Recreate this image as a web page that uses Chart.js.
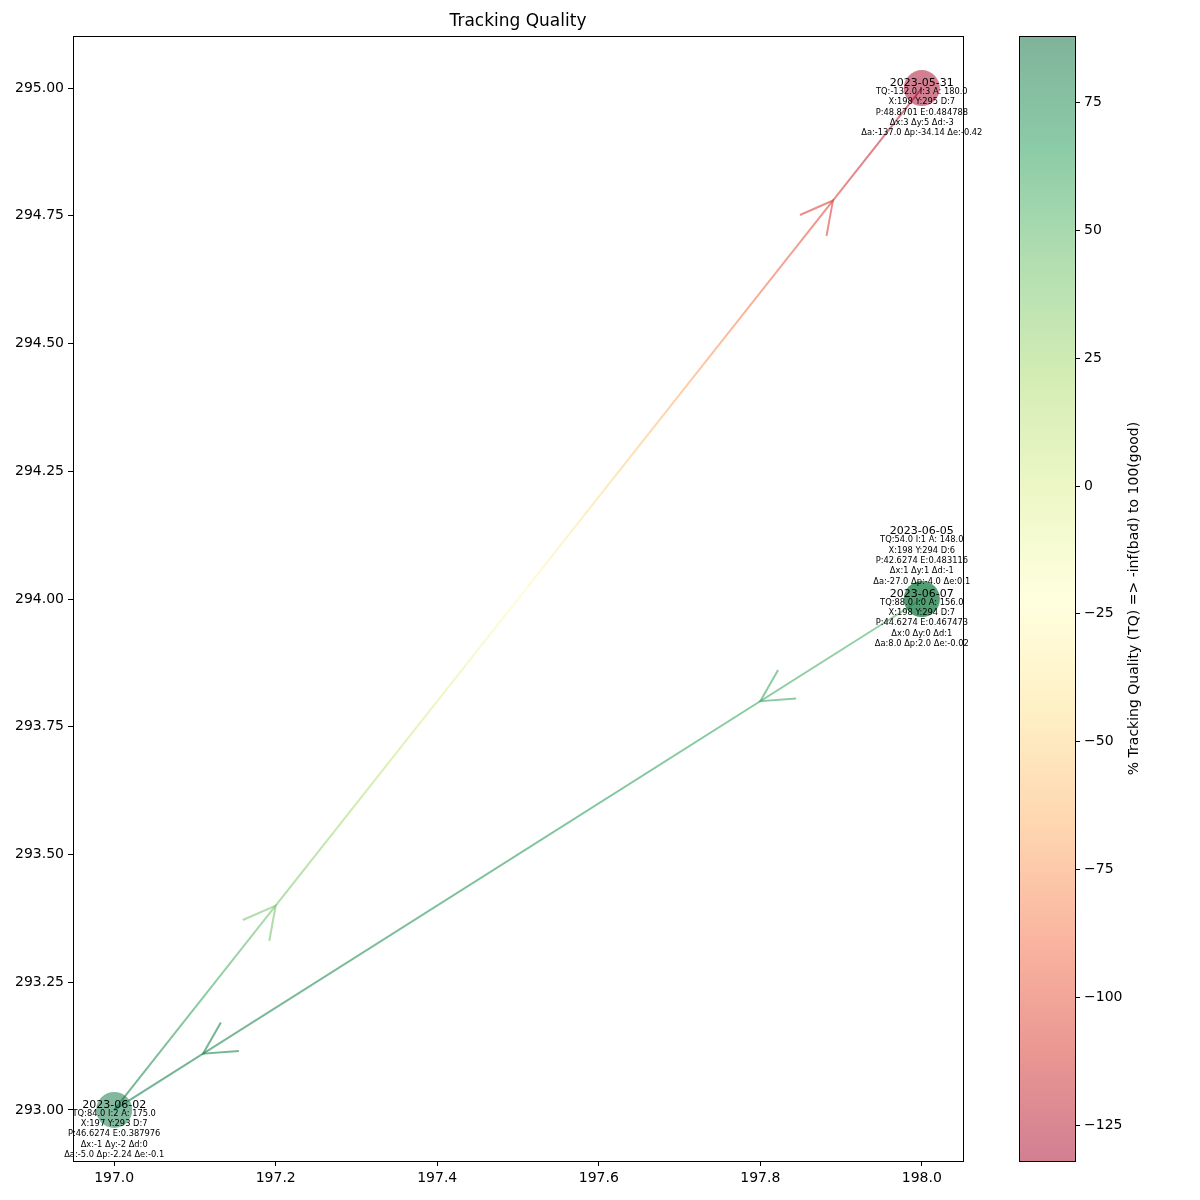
<!DOCTYPE html>
<html>
<head>
<meta charset="utf-8">
<script src="https://cdn.jsdelivr.net/npm/chart.js@4.4.1/dist/chart.umd.min.js"></script>
<style>
  html, body { margin: 0; padding: 0; background: #fff; }
  #wrap { position: relative; width: 1200px; height: 1200px; }
  #mainChart { position: absolute; left: 0; top: 0; }
  #barChart { position: absolute; left: 1000px; top: 0; }
</style>
</head>
<body>
<div id="wrap">
  <canvas id="mainChart" width="1200" height="1200"></canvas>
  <canvas id="barChart" width="200" height="1200"></canvas>
</div>
<script>
// Dados
const dates = ['2023-05-31', '2023-06-02', '2023-06-05', '2023-06-07'];
const posX = [198, 197, 198, 198];
const posY = [295, 293, 294, 294];
const tq = [-132.0, 84.0, 54.0, 88.0];
const iVals = [3, 2, 1, 0];
const aVals = ['180.0', '175.0', '148.0', '156.0'];
const dVals = [7, 7, 6, 7];
const pVals = ['48.8701', '46.6274', '42.6274', '44.6274'];
const eVals = ['0.484788', '0.387976', '0.483116', '0.467473'];
const dxVals = [3, -1, 1, 0];
const dyVals = [5, -2, 1, 0];
const ddVals = [-3, 0, -1, 1];
const daVals = ['-137.0', '-5.0', '-27.0', '8.0'];
const dpVals = ['-34.14', '-2.24', '-4.0', '2.0'];
const deVals = ['-0.42', '-0.1', '0.1', '-0.02'];

// setas: de -> para (índices)
const arrowFrom = [1, 2];
const arrowTo = [0, 1];

const xTicks = [197.0, 197.2, 197.4, 197.6, 197.8, 198.0];
const yTicks = [293.00, 293.25, 293.50, 293.75, 294.00, 294.25, 294.50, 294.75, 295.00];
const cbTicks = [-125, -100, -75, -50, -25, 0, 25, 50, 75];

const tqMin = Math.min.apply(null, tq);
const tqMax = Math.max.apply(null, tq);

// RdYlGn
const cmapStops = ['#a50026', '#d73027', '#f46d43', '#fdae61', '#fee08b', '#ffffbf',
                   '#d9ef8b', '#a6d96a', '#66bd63', '#1a9850', '#006837'];
function hexRgb(h) {
  return [parseInt(h.substr(1, 2), 16), parseInt(h.substr(3, 2), 16), parseInt(h.substr(5, 2), 16)];
}
function cmap(v, alpha) {
  let t = (v - tqMin) / (tqMax - tqMin);
  t = Math.max(0, Math.min(1, t));
  const pos = t * (cmapStops.length - 1);
  const i = Math.min(Math.floor(pos), cmapStops.length - 2);
  const f = pos - i;
  const a = hexRgb(cmapStops[i]), b = hexRgb(cmapStops[i + 1]);
  const c = a.map(function(x, k) { return Math.round(x + (b[k] - x) * f); });
  return 'rgba(' + c[0] + ',' + c[1] + ',' + c[2] + ',' + alpha + ')';
}

const FONT = "'DejaVu Sans', sans-serif";
const LINE_ALPHA = 0.55;

function lineGradient(ctx) {
  const chart = ctx.chart;
  if (!chart.chartArea) return cmap(0, LINE_ALPHA);
  const k = ctx.dataset.arrowIdx;
  const a = arrowFrom[k], b = arrowTo[k];
  const xs = chart.scales.x, ys = chart.scales.y;
  const x0 = xs.getPixelForValue(posX[a]), y0 = ys.getPixelForValue(posY[a]);
  const x1 = xs.getPixelForValue(posX[b]), y1 = ys.getPixelForValue(posY[b]);
  const g = chart.ctx.createLinearGradient(x0, y0, x1, y1);
  for (let s = 0; s <= 10; s++) {
    g.addColorStop(s / 10, cmap(tq[a] + (tq[b] - tq[a]) * s / 10, LINE_ALPHA));
  }
  return g;
}

const datasets = [];
arrowFrom.forEach(function(a, k) {
  const b = arrowTo[k];
  datasets.push({
    type: 'line',
    arrowIdx: k,
    data: [{ x: posX[a], y: posY[a] }, { x: posX[b], y: posY[b] }],
    borderColor: lineGradient,
    borderWidth: 2,
    pointRadius: 0,
    fill: false,
    order: 2
  });
});
datasets.push({
  type: 'scatter',
  data: posX.map(function(x, i) { return { x: x, y: posY[i] }; }),
  backgroundColor: tq.map(function(v) { return cmap(v, 0.5); }),
  borderWidth: 0,
  pointRadius: 18,
  pointHoverRadius: 18,
  order: 1
});

// pontas de seta no meio das linhas
const arrowHeads = {
  id: 'arrowHeads',
  afterDatasetsDraw: function(chart) {
    const c = chart.ctx, xs = chart.scales.x, ys = chart.scales.y;
    const fracs = [0.2, 0.89];
    arrowFrom.forEach(function(a, k) {
      const b = arrowTo[k];
      const x0 = xs.getPixelForValue(posX[a]), y0 = ys.getPixelForValue(posY[a]);
      const x1 = xs.getPixelForValue(posX[b]), y1 = ys.getPixelForValue(posY[b]);
      const ang = Math.atan2(y1 - y0, x1 - x0);
      fracs.forEach(function(f) {
        const px = x0 + (x1 - x0) * f, py = y0 + (y1 - y0) * f;
        const len = 36, spread = 28 * Math.PI / 180;
        c.save();
        c.strokeStyle = cmap(tq[a] + (tq[b] - tq[a]) * f, LINE_ALPHA);
        c.lineWidth = 2;
        c.beginPath();
        c.moveTo(px - len * Math.cos(ang - spread), py - len * Math.sin(ang - spread));
        c.lineTo(px, py);
        c.lineTo(px - len * Math.cos(ang + spread), py - len * Math.sin(ang + spread));
        c.stroke();
        c.restore();
      });
    });
  }
};

// textos das anotações, moldura e título
const annotations = {
  id: 'annotations',
  afterDraw: function(chart) {
    const c = chart.ctx, xs = chart.scales.x, ys = chart.scales.y;
    const area = chart.chartArea;
    const lineH = 10.4;
    c.save();
    c.strokeStyle = '#000';
    c.lineWidth = 1;
    c.strokeRect(Math.round(area.left) + 0.5, Math.round(area.top) + 0.5,
                 Math.round(area.right - area.left), Math.round(area.bottom - area.top));
    c.fillStyle = '#000';
    c.textAlign = 'center';
    c.textBaseline = 'middle';
    c.font = '17px ' + FONT;
    c.fillText('Tracking Quality', (area.left + area.right) / 2, 22);

    dates.forEach(function(d, i) {
      let stack = 0;
      for (let j = i + 1; j < dates.length; j++) {
        if (posX[j] === posX[i] && posY[j] === posY[i]) stack++;
      }
      const px = xs.getPixelForValue(posX[i]);
      const py = ys.getPixelForValue(posY[i]) - stack * 6 * lineH;
      c.font = '11px ' + FONT;
      c.fillText(d, px, py - 5);
      const lines = [
        'TQ:' + tq[i].toFixed(1) + ' I:' + iVals[i] + ' A: ' + aVals[i],
        'X:' + posX[i] + ' Y:' + posY[i] + ' D:' + dVals[i],
        'P:' + pVals[i] + ' E:' + eVals[i],
        '\u0394x:' + dxVals[i] + ' \u0394y:' + dyVals[i] + ' \u0394d:' + ddVals[i],
        '\u0394a:' + daVals[i] + ' \u0394p:' + dpVals[i] + ' \u0394e:' + deVals[i]
      ];
      c.font = '8.3px ' + FONT;
      lines.forEach(function(t, k) {
        c.fillText(t, px, py + 3.5 + k * lineH);
      });
    });
    c.restore();
  }
};

const tickFont = { family: FONT, size: 14 };

new Chart(document.getElementById('mainChart').getContext('2d'), {
  type: 'scatter',
  data: { datasets: datasets },
  options: {
    responsive: false,
    devicePixelRatio: 1,
    animation: false,
    layout: { padding: { left: 0, top: 36, right: 237, bottom: 0 } },
    plugins: { legend: { display: false }, tooltip: { enabled: false } },
    scales: {
      x: {
        type: 'linear',
        min: 196.949,
        max: 198.051,
        afterBuildTicks: function(scale) {
          scale.ticks = xTicks.map(function(v) { return { value: v }; });
        },
        afterFit: function(scale) { scale.height = 39; },
        ticks: {
          color: '#000',
          font: tickFont,
          padding: 4,
          maxRotation: 0,
          callback: function(v) { return Number(v).toFixed(1); }
        },
        grid: { drawOnChartArea: false, drawTicks: true, tickLength: 5, color: '#000' },
        border: { display: false }
      },
      y: {
        type: 'linear',
        min: 292.9,
        max: 295.102,
        afterBuildTicks: function(scale) {
          scale.ticks = yTicks.map(function(v) { return { value: v }; });
        },
        afterFit: function(scale) { scale.width = 73; },
        ticks: {
          color: '#000',
          font: tickFont,
          padding: 4,
          callback: function(v) { return Number(v).toFixed(2); }
        },
        grid: { drawOnChartArea: false, drawTicks: true, tickLength: 5, color: '#000' },
        border: { display: false }
      }
    }
  },
  plugins: [arrowHeads, annotations]
});

// Barra de cores
const colorBar = {
  id: 'colorBar',
  beforeDatasetsDraw: function(chart) {
    const c = chart.ctx, area = chart.chartArea, ys = chart.scales.y;
    const yTop = ys.getPixelForValue(tqMax), yBot = ys.getPixelForValue(tqMin);
    const g = c.createLinearGradient(0, yBot, 0, yTop);
    for (let s = 0; s <= 20; s++) {
      g.addColorStop(s / 20, cmap(tqMin + (tqMax - tqMin) * s / 20, 0.5));
    }
    c.save();
    c.fillStyle = g;
    c.fillRect(area.left, area.top, area.right - area.left, area.bottom - area.top);
    c.strokeStyle = '#000';
    c.lineWidth = 1;
    c.strokeRect(Math.round(area.left) + 0.5, Math.round(area.top) + 0.5,
                 Math.round(area.right - area.left), Math.round(area.bottom - area.top));
    c.translate(134, (area.top + area.bottom) / 2);
    c.rotate(-Math.PI / 2);
    c.fillStyle = '#000';
    c.textAlign = 'center';
    c.textBaseline = 'middle';
    c.font = '14px ' + FONT;
    c.fillText('% Tracking Quality (TQ) => -inf(bad) to 100(good)', 0, 0);
    c.restore();
  }
};

new Chart(document.getElementById('barChart').getContext('2d'), {
  type: 'scatter',
  data: { datasets: [{ data: [] }] },
  options: {
    responsive: false,
    devicePixelRatio: 1,
    animation: false,
    layout: { padding: { left: 19, top: 36, right: 0, bottom: 39 } },
    plugins: { legend: { display: false }, tooltip: { enabled: false } },
    scales: {
      x: { display: false, min: 0, max: 1 },
      y: {
        type: 'linear',
        position: 'right',
        min: tqMin,
        max: tqMax,
        afterBuildTicks: function(scale) {
          scale.ticks = cbTicks.map(function(v) { return { value: v }; });
        },
        afterFit: function(scale) { scale.width = 125; },
        ticks: {
          color: '#000',
          font: tickFont,
          padding: 4,
          callback: function(v) { return v < 0 ? '\u2212' + Math.abs(v) : String(v); }
        },
        grid: { drawOnChartArea: false, drawTicks: true, tickLength: 5, color: '#000' },
        border: { display: false }
      }
    }
  },
  plugins: [colorBar]
});
</script>
</body>
</html>
